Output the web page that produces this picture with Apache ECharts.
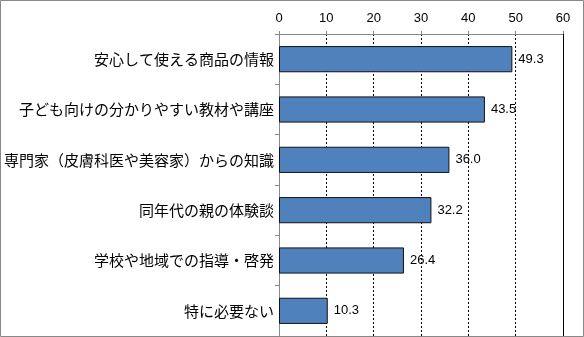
<!DOCTYPE html>
<html>
<head>
<meta charset="utf-8">
<script src="https://cdn.jsdelivr.net/npm/echarts@6/dist/echarts.min.js"></script>
<style>
  html, body { margin: 0; padding: 0; background: #fff; }
  #chart { width: 584px; height: 337px; }
</style>
</head>
<body>
<div id="chart"></div>
<script>
// Categories, listed top to bottom
const categories = [
  '安心して使える商品の情報',
  '子ども向けの分かりやすい教材や講座',
  '専門家（皮膚科医や美容家）からの知識',
  '同年代の親の体験談',
  '学校や地域での指導・啓発',
  '特に必要ない'
];
const values = [49.3, 43.5, 36.0, 32.2, 26.4, 10.3];
const axisMin = 0;
const axisMax = 60;
const axisStep = 10;

const cjkFont = '"Noto Sans CJK JP", "Noto Sans", sans-serif';
const numFont = '"Liberation Sans", Arial, sans-serif';
const chart = echarts.init(document.getElementById('chart'));

chart.setOption({
  animation: false,
  backgroundColor: '#fff',
  grid: { left: 279, right: 21, top: 34, bottom: 1 },
  graphic: [{
    type: 'rect',
    shape: { x: 0.5, y: 0.5, width: 583, height: 336 },
    style: { fill: 'none', stroke: '#888', lineWidth: 1 },
    z: 100
  }],
  xAxis: {
    type: 'value',
    position: 'top',
    min: axisMin,
    max: axisMax,
    interval: axisStep,
    axisLine: { show: true, lineStyle: { color: '#888', width: 1 } },
    axisTick: { show: true, length: 3, lineStyle: { color: '#888' } },
    axisLabel: { color: '#000', fontSize: 13, fontFamily: numFont, margin: 9 },
    splitLine: { show: true, lineStyle: { color: '#000', type: [2, 2], width: 1 } }
  },
  yAxis: {
    type: 'category',
    inverse: true,
    data: categories,
    axisLine: { show: true, lineStyle: { color: '#888', width: 1 } },
    axisTick: { show: true, length: 4, lineStyle: { color: '#888' } },
    axisLabel: { color: '#000', fontSize: 15, fontFamily: cjkFont, margin: 5 }
  },
  series: [{
    type: 'bar',
    data: values,
    barCategoryGap: '48%',
    itemStyle: { color: '#4F81BD', borderColor: '#111', borderWidth: 1 },
    label: {
      show: true,
      position: 'right',
      distance: 6,
      color: '#000',
      fontSize: 13,
      fontFamily: numFont,
      formatter: p => p.value.toFixed(1)
    },
    markLine: {
      silent: true,
      symbol: 'none',
      label: { show: false },
      lineStyle: { color: '#000', type: 'solid', width: 1 },
      data: [{ xAxis: axisMax }]
    }
  }]
});
</script>
</body>
</html>
